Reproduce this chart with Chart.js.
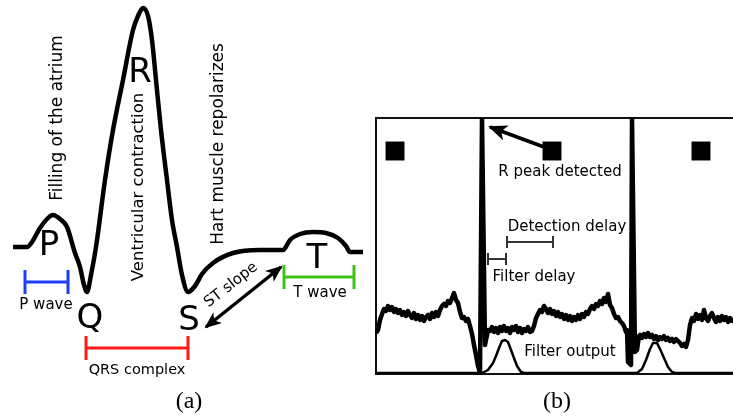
<!DOCTYPE html>
<html>
<head>
<meta charset="utf-8">
<script src="https://cdn.jsdelivr.net/npm/chart.js@4.4.1/dist/chart.umd.min.js"></script>
<style>
  body { margin: 0; background: #fff; width: 733px; height: 417px; overflow: hidden; position: relative; }
  canvas { position: absolute; top: 0; }
  #ecgSketch { left: 0; }
  #detectChart { left: 370px; }
</style>
</head>
<body>
<canvas id="ecgSketch" width="370" height="417"></canvas>
<canvas id="detectChart" width="380" height="417"></canvas>
<script>
// ---- (a) schematic heartbeat: time vs amplitude (baseline = 0) ----
const sketchTime = [13, 27, 32, 40, 47, 53, 60, 67, 75, 80, 84, 87, 91, 96, 105, 113, 123, 133, 138, 143, 148, 152, 156, 161, 167, 172, 177, 182, 188, 195, 202, 213, 233, 260, 283, 290, 300, 313, 326, 338, 346, 350, 363];
const sketchAmp  = [3, 3, 8, 22, 31, 35, 31, 23, -3, -17, -35, -42, -25, 3, 70, 120, 170, 220, 234, 242, 234, 210, 170, 120, 70, 30, 3, -25, -42, -36, -24, -13, -3, 0, 0, 10, 16, 18, 17, 12, 4, -2, -2];

// intervals marked under the sketch [start, end]
const pWave = [25, 68];
const qrsComplex = [86, 188];
const tWave = [284, 354];
const stSlope = [[206, -77], [281, -17]];

// ---- (b) recorded ECG with detector output: sample vs amplitude ----
const ecgSample = [1, 3, 5, 7, 9, 11, 13, 15, 17, 19, 21, 23, 25, 27, 29, 31, 33, 35, 37, 39, 41, 43, 45, 47, 49, 51, 53, 55, 57, 59, 61, 63, 65, 67, 69, 71, 73, 75, 77, 79, 81, 83, 85, 87, 89, 91, 93, 95, 97, 99, 101, 103, 105, 107, 110, 113,
  115, 117, 119, 121, 123, 125, 127, 129, 131, 133, 135, 137, 139, 141, 143, 145, 147, 149, 151, 153, 155, 157, 159, 161, 163, 165, 167, 169, 171, 173, 175, 177, 179, 181, 183, 185, 187, 189, 191, 193, 195, 197, 199, 201, 203, 205, 207, 209, 211, 213, 215, 217, 219, 221, 223, 225, 227, 229, 231, 233, 235, 237, 239, 241, 243, 245, 247, 249, 251, 252, 253, 256, 257, 260, 262, 264,
  265, 267, 269, 271, 273, 275, 277, 279, 281, 283, 285, 287, 289, 291, 293, 295, 297, 299, 301, 303, 305, 307, 309, 311, 313, 315, 317, 319, 321, 323, 325, 327, 329, 331, 333, 335, 337, 339, 341, 343, 345, 347, 349, 351, 353, 355, 357, 360];
const ecgAmp = [41, 44, 54, 60, 65, 63, 68, 64, 67, 62, 65, 61, 64, 59, 62, 58, 63, 59, 56, 61, 55, 59, 54, 58, 53, 57, 59, 55, 61, 57, 62, 58, 64, 68, 70, 68, 73, 71, 76, 81, 74, 71, 62, 56, 57, 53, 55, 48, 40, 29, 19, 8, 1, 256, 29, 44,
  43, 47, 42, 46, 41, 47, 43, 48, 43, 46, 41, 47, 44, 48, 42, 46, 41, 45, 43, 47, 42, 43, 48, 56, 60, 64, 62, 68, 65, 61, 65, 60, 63, 58, 62, 57, 60, 55, 59, 54, 58, 53, 57, 54, 59, 55, 60, 57, 62, 60, 65, 68, 65, 70, 68, 73, 70, 76, 72, 80, 69, 66, 60, 56, 57, 53, 51, 48, 42, 44, 12, 9, 256, 22, 24, 38,
  39, 36, 40, 37, 41, 37, 39, 35, 38, 34, 37, 35, 38, 34, 36, 33, 35, 32, 35, 33, 31, 28, 30, 27, 34, 49, 56, 53, 60, 55, 59, 54, 64, 56, 53, 58, 61, 56, 52, 57, 53, 58, 54, 57, 52, 56, 53, 55];
const filterSample = [0, 107, 113, 118, 121, 124, 127, 130, 133, 136, 139, 142, 146, 149, 262, 267, 271, 275, 278, 282, 285, 289, 293, 297, 300, 370];
const filterAmp    = [1, 1, 4, 11, 18, 26, 33, 34, 32, 24, 16, 8, 2, 1, 1, 5, 14, 25, 31, 31, 25, 16, 7, 2, 1, 1];
const peakMarkSample = [20, 177, 326];
const peakMarkAmp = [223, 223, 223];
const detectionDelay = [132, 178];
const filterDelay = [113, 131];
const peakArrow = [[169, 227], [115, 247]];

const FONT = "'DejaVu Sans', sans-serif";
const SERIF = "'Liberation Serif', 'DejaVu Serif', serif";

function series(xs, ys, color, width, extra) {
  return Object.assign({
    data: xs.map((x, i) => ({ x: x, y: ys[i] })),
    borderColor: color, borderWidth: width, pointRadius: 0, fill: false, tension: 0,
    borderJoinStyle: 'round'
  }, extra || {});
}

function bracket(span, level, color, width, tick) {
  return {
    data: [{ x: span[0], y: level }, { x: span[1], y: level }],
    borderColor: color, borderWidth: width, fill: false,
    pointStyle: 'line', pointRotation: 90, pointRadius: tick,
    pointBorderColor: color, pointBorderWidth: width, pointHoverRadius: tick
  };
}

function arrow(pair, color, width, extra) {
  return Object.assign({
    data: pair.map(p => ({ x: p[0], y: p[1] })),
    borderColor: color, borderWidth: width, pointRadius: 0, fill: false
  }, extra || {});
}

// text labels placed in data units
function notesPlugin(items) {
  return {
    id: 'notes',
    afterDatasetsDraw(chart) {
      const ctx = chart.ctx, xs = chart.scales.x, ys = chart.scales.y;
      items.forEach(n => {
        ctx.save();
        ctx.translate(xs.getPixelForValue(n.x), ys.getPixelForValue(n.y));
        if (n.rot) ctx.rotate(n.rot * Math.PI / 180);
        ctx.font = n.font;
        ctx.fillStyle = n.color || '#000';
        ctx.textAlign = 'center';
        ctx.textBaseline = n.base || 'middle';
        ctx.fillText(n.text, 0, 0);
        ctx.restore();
      });
    }
  };
}

// notched arrow heads on the ends of a two-point dataset
function headsPlugin(specs) {
  return {
    id: 'heads',
    afterDatasetsDraw(chart) {
      const ctx = chart.ctx;
      specs.forEach(s => {
        const pts = chart.getDatasetMeta(s.ds).data;
        const ends = [];
        if (s.end) ends.push([pts[pts.length - 1], pts[pts.length - 2]]);
        if (s.start) ends.push([pts[0], pts[1]]);
        ends.forEach(([tip, from]) => {
          const a = Math.atan2(tip.y - from.y, tip.x - from.x);
          ctx.save();
          ctx.translate(tip.x, tip.y);
          ctx.rotate(a);
          ctx.beginPath();
          ctx.moveTo(2, 0);
          ctx.lineTo(-s.len, -s.half);
          ctx.lineTo(-s.len * 0.7, 0);
          ctx.lineTo(-s.len, s.half);
          ctx.closePath();
          ctx.fillStyle = s.color;
          ctx.fill();
          ctx.restore();
        });
      });
    }
  };
}

const framePlugin = {
  id: 'frame',
  beforeDatasetsDraw(chart) {
    const { ctx, chartArea: a } = chart;
    ctx.save();
    ctx.strokeStyle = '#111';
    ctx.lineWidth = 2;
    ctx.strokeRect(a.left + 1, a.top, a.right - a.left, a.bottom - a.top);
    ctx.restore();
  }
};

const hiddenAxes = (xmin, xmax, ymin, ymax) => ({
  x: { type: 'linear', display: false, min: xmin, max: xmax },
  y: { type: 'linear', display: false, min: ymin, max: ymax }
});

const baseOptions = {
  responsive: false,
  animation: false,
  events: [],
  devicePixelRatio: 1,
  plugins: { legend: { display: false }, tooltip: { enabled: false } }
};

new Chart(document.getElementById('ecgSketch').getContext('2d'), {
  type: 'line',
  data: {
    datasets: [
      series(sketchTime, sketchAmp, '#000', 4.5, { cubicInterpolationMode: 'monotone', borderCapStyle: 'butt' }),
      bracket(pWave, -32, '#1c3cff', 3, 12),
      bracket(qrsComplex, -98, '#ff1a1a', 3, 12),
      bracket(tWave, -27, '#3ec21a', 3, 12),
      arrow(stSlope, '#000', 3.5)
    ]
  },
  options: Object.assign({}, baseOptions, {
    layout: { padding: 0, autoPadding: false },
    scales: hiddenAxes(0, 370, -167, 250)
  }),
  plugins: [
    headsPlugin([{ ds: 4, start: true, end: true, len: 15, half: 7, color: '#000' }]),
    notesPlugin([
      { text: 'Filling of the atrium', x: 58, y: 132, rot: -90, font: '17px ' + FONT },
      { text: 'Ventricular contraction', x: 139, y: 63, rot: -90, font: '16.5px ' + FONT },
      { text: 'Hart muscle repolarizes', x: 219, y: 106, rot: -90, font: '17px ' + FONT },
      { text: 'P', x: 49, y: -5, base: 'alphabetic', font: '34px ' + FONT },
      { text: 'Q', x: 90, y: -78, base: 'alphabetic', font: '34px ' + FONT },
      { text: 'R', x: 140, y: 168, base: 'alphabetic', font: '34px ' + FONT },
      { text: 'S', x: 189, y: -80, base: 'alphabetic', font: '34px ' + FONT },
      { text: 'T', x: 317, y: -18, base: 'alphabetic', font: '34px ' + FONT },
      { text: 'P wave', x: 46, y: -55, font: '15px ' + FONT },
      { text: 'QRS complex', x: 137, y: -120, font: '14.5px ' + FONT },
      { text: 'T wave', x: 320, y: -43, font: '15px ' + FONT },
      { text: 'ST slope', x: 231, y: -35, rot: -38, font: '15px ' + FONT },
      { text: '(a)', x: 189, y: -152, font: '24px ' + SERIF }
    ])
  ]
});

new Chart(document.getElementById('detectChart').getContext('2d'), {
  type: 'line',
  data: {
    datasets: [
      series(ecgSample, ecgAmp, '#000', 4.5),
      series(filterSample, filterAmp, '#000', 2.5),
      {
        type: 'scatter',
        data: peakMarkSample.map((x, i) => ({ x: x, y: peakMarkAmp[i] })),
        pointStyle: 'rect', pointRadius: 13.4, pointBackgroundColor: '#000',
        pointBorderWidth: 0, showLine: false
      },
      bracket(detectionDelay, 132, '#333', 2, 6),
      bracket(filterDelay, 115, '#333', 2, 6),
      arrow(peakArrow, '#000', 3.5)
    ]
  },
  options: Object.assign({}, baseOptions, {
    layout: { padding: { left: 5, right: 5, top: 118, bottom: 43 }, autoPadding: false },
    scales: hiddenAxes(0, 370, 0, 256)
  }),
  plugins: [
    framePlugin,
    headsPlugin([{ ds: 5, end: true, len: 17, half: 8, color: '#000' }]),
    notesPlugin([
      { text: 'R peak detected', x: 185, y: 198, base: 'alphabetic', font: '15px ' + FONT },
      { text: 'Detection delay', x: 192, y: 143, base: 'alphabetic', font: '15px ' + FONT },
      { text: 'Filter delay', x: 159, y: 93, base: 'alphabetic', font: '15px ' + FONT },
      { text: 'Filter output', x: 195, y: 18, base: 'alphabetic', font: '15px ' + FONT },
      { text: '(b)', x: 182, y: -28, font: '24px ' + SERIF }
    ])
  ]
});
</script>
</body>
</html>
